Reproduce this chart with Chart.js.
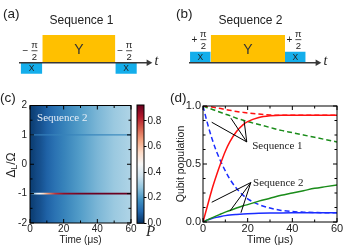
<!DOCTYPE html>
<html>
<head>
<meta charset="utf-8">
<script src="https://cdn.jsdelivr.net/npm/chart.js@4.4.1/dist/chart.umd.min.js"></script>
<style>
  html, body { margin: 0; padding: 0; background: #fff; }
  #wrap { position: relative; width: 345px; height: 250px; }
  #wrap canvas { position: absolute; left: 0; top: 0; }
</style>
</head>
<body>
<div id="wrap">
  <canvas id="pa" width="345" height="250"></canvas>
  <canvas id="pb" width="345" height="250"></canvas>
  <canvas id="pc" width="345" height="250"></canvas>
  <canvas id="pbar" width="345" height="250"></canvas>
  <canvas id="pd" width="345" height="250"></canvas>
</div>
<script>
// ---- (a)/(b) pulse sequences (arbitrary time units along the t axis) ----
const axisEnd = 10;
const seq1Start = [0.13, 1.8, 7.44];
const seq1End   = [1.8, 7.44, 9.1];
const seq1Amp   = [-0.4, 1, -0.4];
const seq1Name  = ['X', 'Y', 'X'];
const seq1Sign  = ['\u2212', '', '\u2212'];

const seq2Start = [0.08, 1.69, 7.47];
const seq2End   = [1.69, 7.47, 9.08];
const seq2Amp   = [0.4, 1, 0.4];
const seq2Name  = ['X', 'Y', 'X'];
const seq2Sign  = ['+', '', '+'];

// ---- (c) heat map, P versus time ----
const heatTimes     = [0, 2, 4, 6, 8, 10, 15, 20, 30, 40, 50, 60];
const heatBg        = [0.02, 0.03, 0.045, 0.055, 0.07, 0.085, 0.12, 0.15, 0.205, 0.25, 0.29, 0.32];
const heatRowLower  = [0.05, 0.25, 0.4, 0.47, 0.56, 0.65, 0.8, 0.87, 0.91, 0.92, 0.92, 0.92]; // detuning -1
const heatRowUpper  = [0.12, 0.13, 0.13, 0.14, 0.14, 0.14, 0.15, 0.15, 0.16, 0.16, 0.17, 0.17]; // detuning +1
const cXTicks = [0, 20, 40, 60];
const cXMinor = [10, 30, 50];
const cYTicks = [-2, -1, 0, 1, 2];
const cYMinor = [-1.5, -0.5, 0.5, 1.5];
const barTicks = [0, 0.2, 0.4, 0.6, 0.8];
const pMax = 0.924;
const cmapStops = ['#053061', '#2166ac', '#4393c3', '#92c5de', '#d1e5f0', '#f7f7f7',
                   '#fddbc7', '#f4a582', '#d6604d', '#b2182b', '#67001f'];

// ---- (d) qubit population ----
const times     = [0, 2, 4, 6, 8, 10, 12, 15, 18, 20, 25, 30, 35, 40, 45, 50, 55, 60];
const seq1Red   = [1, 0.997, 0.992, 0.985, 0.978, 0.97, 0.963, 0.953, 0.945, 0.94, 0.93, 0.923, 0.92, 0.92, 0.92, 0.92, 0.92, 0.92];
const seq1Green = [1, 0.985, 0.972, 0.958, 0.944, 0.93, 0.917, 0.895, 0.877, 0.865, 0.84, 0.815, 0.79, 0.77, 0.75, 0.73, 0.71, 0.69];
const seq1Blue  = [1, 0.85, 0.72, 0.61, 0.52, 0.44, 0.37, 0.29, 0.23, 0.2, 0.15, 0.12, 0.1, 0.09, 0.085, 0.082, 0.08, 0.08];
const seq2Red   = [0, 0.14, 0.28, 0.4, 0.51, 0.61, 0.69, 0.78, 0.84, 0.865, 0.9, 0.915, 0.92, 0.92, 0.92, 0.92, 0.92, 0.92];
const seq2Green = [0, 0.018, 0.036, 0.053, 0.069, 0.085, 0.099, 0.12, 0.14, 0.15, 0.18, 0.205, 0.23, 0.25, 0.27, 0.29, 0.305, 0.32];
const seq2Blue  = [0, 0.018, 0.03, 0.04, 0.048, 0.055, 0.06, 0.065, 0.069, 0.071, 0.075, 0.077, 0.078, 0.079, 0.08, 0.08, 0.08, 0.08];
const dXTicks = [0, 20, 40, 60];
const dXMinor = [10, 30, 50];
const dYTicks = [0, 0.5, 1];
const dYMinor = [0.125, 0.25, 0.375, 0.625, 0.75, 0.875];

Chart.defaults.font.family = "'Liberation Sans', Arial, sans-serif";
Chart.defaults.color = '#222';

const SERIF = "'Liberation Serif', 'Times New Roman', serif";
const SANS = "'Liberation Sans', Arial, sans-serif";

const baseOpts = {
  responsive: false,
  animation: false,
  events: [],
  plugins: { legend: { display: false }, tooltip: { enabled: false } }
};

const fixedTicks = vals => scale => { scale.ticks = vals.map(v => ({ value: v })); };

function text(ctx, str, x, y, font, color, align) {
  ctx.font = font;
  ctx.fillStyle = color || '#222';
  ctx.textAlign = align || 'left';
  ctx.textBaseline = 'middle';
  ctx.fillText(str, x, y);
}

// colour map helpers (RdBu reversed)
const cmapRGB = cmapStops.map(h => [1, 3, 5].map(i => parseInt(h.slice(i, i + 2), 16)));
function pColor(p) {
  const n = cmapRGB.length - 1;
  const u = Math.max(0, Math.min(1, p / pMax)) * n;
  const i = Math.min(Math.floor(u), n - 1), f = u - i;
  const c = cmapRGB[i].map((v, k) => Math.round(v + (cmapRGB[i + 1][k] - v) * f));
  return `rgb(${c[0]},${c[1]},${c[2]})`;
}
function timeGradient(ctx, xs, ts, vals) {
  const x0 = xs.getPixelForValue(ts[0]), x1 = xs.getPixelForValue(ts[ts.length - 1]);
  const g = ctx.createLinearGradient(x0, 0, x1, 0);
  ts.forEach((t, i) => g.addColorStop((xs.getPixelForValue(t) - x0) / (x1 - x0), pColor(vals[i])));
  return g;
}
const rowColor = (c, vals) => {
  const ch = c.chart;
  if (!ch.chartArea) return 'rgba(0,0,0,0)';
  return timeGradient(ch.ctx, ch.scales.x, heatTimes, vals);
};

// black frame with inward ticks on all four sides
function frameTicks(chart, xMaj, xMin, yMaj, yMin) {
  const { ctx, chartArea: a, scales: { x, y } } = chart;
  ctx.save();
  ctx.strokeStyle = '#000';
  ctx.lineWidth = 1;
  ctx.strokeRect(a.left, a.top, a.right - a.left, a.bottom - a.top);
  ctx.beginPath();
  const xt = (vals, len) => vals.forEach(v => {
    const p = x.getPixelForValue(v);
    ctx.moveTo(p, a.bottom); ctx.lineTo(p, a.bottom - len);
    ctx.moveTo(p, a.top); ctx.lineTo(p, a.top + len);
  });
  const yt = (vals, len) => vals.forEach(v => {
    const p = y.getPixelForValue(v);
    ctx.moveTo(a.left, p); ctx.lineTo(a.left + len, p);
    ctx.moveTo(a.right, p); ctx.lineTo(a.right - len, p);
  });
  xt(xMaj, 4); xt(xMin, 2.5); yt(yMaj, 4); yt(yMin, 2.5);
  ctx.stroke();
  ctx.restore();
}

// ---------- (a) and (b): pulse diagrams ----------
const pulseColor = name => (name === 'Y' ? '#ffc000' : '#14aeeb');

function pulseChart(id, starts, ends, amps, names, signs, padL, padR, label, labelX, title, titleX) {
  const datasets = [{
    data: [{ x: 0, y: 0 }, { x: axisEnd, y: 0 }],
    borderColor: '#383838', borderWidth: 1.3,
    pointRadius: [0, 3.8], pointStyle: 'triangle', pointRotation: 90,
    pointBackgroundColor: '#383838', pointBorderWidth: 0, clip: false
  }];
  starts.forEach((s, i) => datasets.push({
    data: [{ x: s, y: amps[i] }, { x: ends[i], y: amps[i] }],
    fill: 'origin', backgroundColor: pulseColor(names[i]), borderColor: pulseColor(names[i]),
    borderWidth: 0, pointRadius: 0
  }));
  return new Chart(document.getElementById(id), {
    type: 'line',
    data: { datasets },
    options: {
      ...baseOpts,
      layout: { padding: { left: padL, right: padR, top: 35, bottom: 173.4 } },
      scales: {
        x: { type: 'linear', min: 0, max: axisEnd, display: false },
        y: { type: 'linear', min: -0.5, max: 1, display: false }
      }
    },
    plugins: [{
      id: 'pulseText',
      afterDraw(chart) {
        const { ctx, scales: { x, y } } = chart;
        ctx.save();
        text(ctx, label, labelX, 14, `13.5px ${SANS}`, '#222');
        text(ctx, title, titleX, 21, `12px ${SANS}`, '#222', 'center');
        text(ctx, 't', x.getPixelForValue(axisEnd) + 6, y.getPixelForValue(0) - 1, `italic 14px ${SERIF}`, '#222');
        starts.forEach((s, i) => {
          const cx = (x.getPixelForValue(s) + x.getPixelForValue(ends[i])) / 2;
          const cy = (y.getPixelForValue(0) + y.getPixelForValue(amps[i])) / 2;
          if (names[i] === 'Y') {
            text(ctx, 'Y', cx, cy + 1, `14px ${SANS}`, '#333', 'center');
            return;
          }
          text(ctx, names[i], cx, cy + 0.5, `8.5px ${SANS}`, '#222', 'center');
          const bar = y.getPixelForValue(Math.max(0, amps[i])) - 12;
          text(ctx, signs[i], cx - 6, bar + 0.5, `10px ${SANS}`, '#222', 'center');
          text(ctx, '\u03c0', cx + 3, bar - 5, `9.5px ${SANS}`, '#222', 'center');
          text(ctx, '2', cx + 3, bar + 6.5, `9.5px ${SANS}`, '#222', 'center');
          ctx.strokeStyle = '#222';
          ctx.lineWidth = 0.8;
          ctx.beginPath();
          ctx.moveTo(cx, bar); ctx.lineTo(cx + 6, bar);
          ctx.stroke();
        });
        ctx.restore();
      }
    }]
  });
}

pulseChart('pa', seq1Start, seq1End, seq1Amp, seq1Name, seq1Sign, 19, 345 - 148.5, '(a)', 3, 'Sequence 1', 81.5);
pulseChart('pb', seq2Start, seq2End, seq2Amp, seq2Name, seq2Sign, 189, 345 - 317.5, '(b)', 176, 'Sequence 2', 250.5);

// ---------- (c): heat map ----------
new Chart(document.getElementById('pc'), {
  type: 'line',
  data: {
    datasets: [
      { data: heatTimes.map(t => ({ x: t, y: 1 })), borderColor: c => rowColor(c, heatRowUpper), borderWidth: 1.3, pointRadius: 0 },
      { data: heatTimes.map(t => ({ x: t, y: -1 })), borderColor: c => rowColor(c, heatRowLower), borderWidth: 1.6, pointRadius: 0 }
    ]
  },
  options: {
    ...baseOpts,
    layout: { padding: { left: 0, right: 214, top: 105.5, bottom: 3.5 } },
    scales: {
      x: {
        type: 'linear', min: 0, max: 60,
        afterBuildTicks: fixedTicks(cXTicks),
        afterFit: s => { s.height = 23.5; },
        grid: { display: false, drawTicks: false }, border: { display: false },
        ticks: { padding: 0, autoSkip: false, maxRotation: 0, font: { size: 10 } },
        title: { display: true, text: 'Time (\u03bcs)', padding: 0, font: { size: 10 } }
      },
      y: {
        type: 'linear', min: -2, max: 2,
        afterBuildTicks: fixedTicks(cYTicks),
        afterFit: s => { s.width = 30; },
        grid: { display: false, drawTicks: false }, border: { display: false },
        ticks: { padding: 3, autoSkip: false, font: { size: 10 } }
      }
    }
  },
  plugins: [{
    id: 'heat',
    beforeDatasetsDraw(chart) {
      const { ctx, chartArea: a, scales: { x } } = chart;
      ctx.save();
      ctx.fillStyle = timeGradient(ctx, x, heatTimes, heatBg);
      ctx.fillRect(a.left, a.top, a.right - a.left, a.bottom - a.top);
      ctx.restore();
    },
    afterDraw(chart) {
      const { ctx, scales: { x, y } } = chart;
      frameTicks(chart, cXTicks, cXMinor, cYTicks, cYMinor);
      ctx.save();
      text(ctx, 'Sequence 2', x.getPixelForValue(4.2), y.getPixelForValue(1.57), `11px ${SERIF}`, '#e6eef7');
      text(ctx, '(c)', 0, 98, `13.5px ${SANS}`, '#222');
      // rotated axis title with subscript
      ctx.translate(12, 165);
      ctx.rotate(-Math.PI / 2);
      ctx.textBaseline = 'middle';
      const big = `12px ${SANS}`, small = `8.5px ${SANS}`;
      ctx.font = big; const w1 = ctx.measureText('\u0394').width, w3 = ctx.measureText('/\u03a9').width;
      ctx.font = small; const w2 = ctx.measureText('L').width;
      let px = -(w1 + w2 + w3) / 2;
      text(ctx, '\u0394', px, 0, big, '#222'); px += w1;
      text(ctx, 'L', px, 3, small, '#222'); px += w2;
      text(ctx, '/\u03a9', px, 0, big, '#222');
      ctx.restore();
    }
  }]
});

// ---------- colour bar ----------
new Chart(document.getElementById('pbar'), {
  type: 'line',
  data: { datasets: [] },
  options: {
    ...baseOpts,
    layout: { padding: { left: 137, right: 345 - 144 - 20, top: 105, bottom: 26.7 } },
    scales: {
      x: { type: 'linear', min: 0, max: 1, display: false },
      y: {
        type: 'linear', position: 'right', min: 0, max: pMax,
        afterBuildTicks: fixedTicks(barTicks),
        afterFit: s => { s.width = 20; },
        grid: { display: true, drawOnChartArea: false, drawTicks: true, tickLength: 2.5, color: '#000' },
        border: { display: false },
        ticks: { padding: 1, autoSkip: false, font: { size: 10 }, callback: v => v.toFixed(1) }
      }
    }
  },
  plugins: [{
    id: 'bar',
    beforeDatasetsDraw(chart) {
      const { ctx, chartArea: a, scales: { y } } = chart;
      const y0 = y.getPixelForValue(0), y1 = y.getPixelForValue(pMax);
      const g = ctx.createLinearGradient(0, y0, 0, y1);
      cmapStops.forEach((c, i) => g.addColorStop(i / (cmapStops.length - 1), c));
      ctx.save();
      ctx.fillStyle = g;
      ctx.fillRect(a.left, a.top, a.right - a.left, a.bottom - a.top);
      ctx.strokeStyle = '#000';
      ctx.lineWidth = 1;
      ctx.strokeRect(a.left, a.top, a.right - a.left, a.bottom - a.top);
      text(ctx, 'P', a.right + 2, 232, `italic 15px ${SERIF}`, '#222');
      ctx.restore();
    }
  }]
});

// ---------- (d): qubit population ----------
const curve = (vals, color, dashed) => ({
  data: times.map((t, i) => ({ x: t, y: vals[i] })),
  borderColor: color, borderWidth: 1.5, borderDash: dashed ? [5, 3] : [],
  pointRadius: 0, cubicInterpolationMode: 'monotone', fill: false
});

const seq1Tip = [19.6, 0.69];
const seq1Ends = [[3.9, 0.86], [12.5, 0.895], [18.4, 0.873]];
const seq2Tip = [21.4, 0.34];
const seq2Ends = [[3.9, 0.17], [12.1, 0.095], [17, 0.08]];

new Chart(document.getElementById('pd'), {
  type: 'line',
  data: {
    datasets: [
      curve(seq2Red, '#ff1010', false),
      curve(seq2Green, '#1a8c1a', false),
      curve(seq2Blue, '#1a2cff', false),
      curve(seq1Red, '#ff1010', true),
      curve(seq1Green, '#1a8c1a', true),
      curve(seq1Blue, '#1a2cff', true)
    ]
  },
  options: {
    ...baseOpts,
    layout: { padding: { left: 174.7, right: 8, top: 106, bottom: 3.4 } },
    scales: {
      x: {
        type: 'linear', min: 0, max: 60,
        afterBuildTicks: fixedTicks(dXTicks),
        afterFit: s => { s.height = 24.6; },
        grid: { display: false, drawTicks: false }, border: { display: false },
        ticks: { padding: 0, autoSkip: false, maxRotation: 0, font: { size: 11 } },
        title: { display: true, text: 'Time (\u03bcs)', padding: 0, font: { size: 11 } }
      },
      y: {
        type: 'linear', min: 0, max: 1,
        afterBuildTicks: fixedTicks(dYTicks),
        afterFit: s => { s.width = 28.3; },
        grid: { display: false, drawTicks: false }, border: { display: false },
        ticks: { padding: 2, autoSkip: false, font: { size: 11 }, callback: v => v.toFixed(1) },
        title: { display: true, text: 'Qubit population', padding: 0, font: { size: 10.5 } }
      }
    }
  },
  plugins: [{
    id: 'notes',
    afterDraw(chart) {
      const { ctx, scales: { x, y } } = chart;
      frameTicks(chart, dXTicks, dXMinor, dYTicks, dYMinor);
      ctx.save();
      ctx.strokeStyle = '#000';
      ctx.lineWidth = 1;
      ctx.beginPath();
      [[seq1Tip, seq1Ends], [seq2Tip, seq2Ends]].forEach(([tip, ends]) => {
        ends.forEach(e => {
          ctx.moveTo(x.getPixelForValue(tip[0]), y.getPixelForValue(tip[1]));
          ctx.lineTo(x.getPixelForValue(e[0]), y.getPixelForValue(e[1]));
        });
      });
      ctx.stroke();
      text(ctx, 'Sequence 1', x.getPixelForValue(22), y.getPixelForValue(0.65), `11px ${SERIF}`, '#222');
      text(ctx, 'Sequence 2', x.getPixelForValue(22.4), y.getPixelForValue(0.335), `11px ${SERIF}`, '#222');
      text(ctx, '(d)', 170, 98, `13.5px ${SANS}`, '#222');
      ctx.restore();
    }
  }]
});
</script>
</body>
</html>
